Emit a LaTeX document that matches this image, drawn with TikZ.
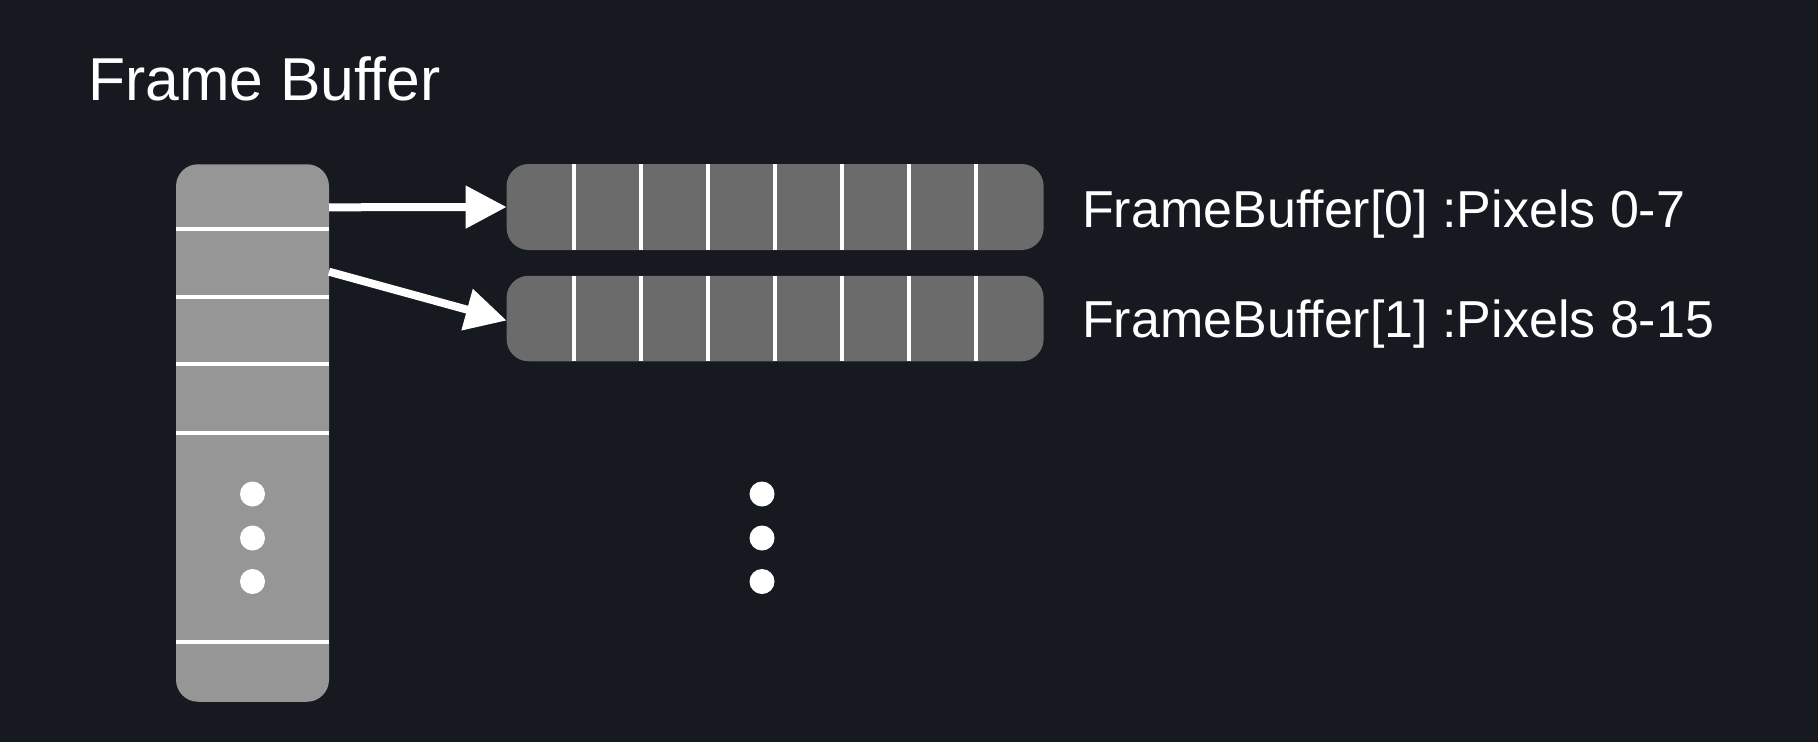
\documentclass[tikz,border=0pt]{standalone}
\usepackage{fontspec}
\setmainfont{Liberation Sans}
\usetikzlibrary{arrows.meta,calc}
\definecolor{bg}{HTML}{171920}
\definecolor{colgray}{HTML}{969696}
\definecolor{rowgray}{HTML}{6B6B6B}
\tikzset{
  colbox/.style={fill=colgray, rounded corners=22pt, minimum width=153pt, minimum height=537.5pt, inner sep=0pt, outer sep=0pt},
  rowbox/.style={fill=rowgray, rounded corners=22pt, minimum width=537pt, minimum height=86pt, inner sep=0pt, outer sep=0pt},
  divline/.style={white, line width=3.8pt},
  arr/.style={white, line width=8pt, -{Triangle[length=41pt,width=41pt]}},
  dotnode/.style={circle, fill=white, minimum size=25pt, inner sep=0pt},
  titletext/.style={text=white, anchor=base west, inner sep=0pt, font=\fontsize{60.6pt}{72pt}\selectfont},
  labeltext/.style={text=white, anchor=base west, inner sep=0pt, font=\fontsize{52pt}{62pt}\selectfont},
}
\begin{document}
\begin{tikzpicture}[x=1pt, y=-1pt]
\path[use as bounding box, fill=bg] (0,0) rectangle (1818,742);

\node[titletext] (title) at (88,100) {Frame Buffer};

% column
\node[colbox] (col) at (252.5,433) {};
\foreach \y in {229,296.7,364,432.7,642}
  \draw[divline] (col.west |- 0,\y) -- (col.east |- 0,\y);
\node[dotnode] (cd1) at (252.5,494) {};
\node[dotnode] (cd2) at (252.5,538) {};
\node[dotnode] (cd3) at (252.5,581.5) {};

% rows
\node[rowbox] (r0) at (775.1,207) {};
\node[rowbox, minimum height=85.5pt] (r1) at (775.1,318.5) {};
\foreach \r in {r0,r1}
  \foreach \k in {1,...,7}
    \draw[divline] ($(\r.north west)+(\k*67.1,0)$) -- ($(\r.south west)+(\k*67.1,0)$);

\node[dotnode] (rd1) at (762,494) {};
\node[dotnode] (rd2) at (762,538) {};
\node[dotnode] (rd3) at (762,581.5) {};

% arrows
\coordinate (a0) at (329,207.3);
\coordinate (a1) at (329,271.7);
\draw[arr] (a0) -- (r0.west);
\draw[arr] (a1) -- ($(r1.west)+(0,2)$);

% labels
\node[labeltext] (l0) at (1082,227) {FrameBuffer[0] :Pixels 0-7};
\node[labeltext] (l1) at (1082,337) {FrameBuffer[1] :Pixels 8-15};
\end{tikzpicture}
\end{document}
